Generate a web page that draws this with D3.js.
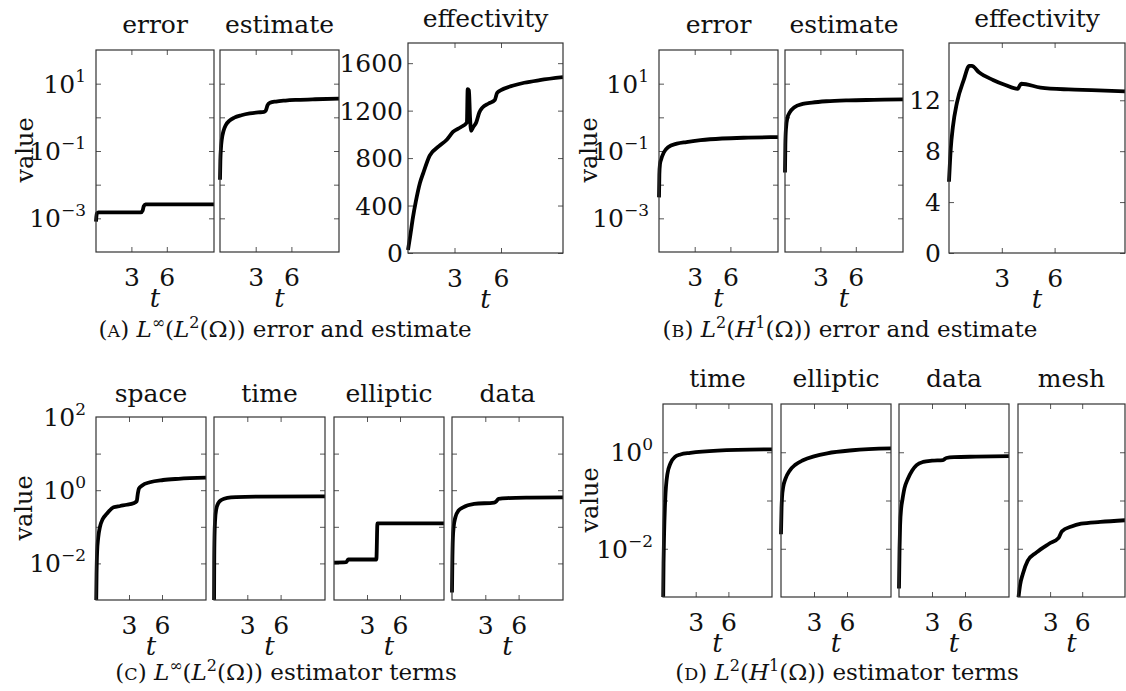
<!DOCTYPE html>
<html>
<head>
<meta charset="utf-8">
<script src="https://cdn.jsdelivr.net/npm/d3@7"></script>
<style>
  body { margin: 0; background: #fff; }
</style>
</head>
<body>
<div id="chart"></div>
<script>
const W = 1126, H = 691;
const FONT = "'DejaVu Serif', serif";

// every panel runs over time t
const tDomain = [0, 10];
const tTicks = [3, 6];

// (A) L-inf(L2): [t, value]
const errA = [[0, 8e-4], [0.03, 1.1e-3], [0.08, 1.4e-3], [0.2, 1.5e-3], [3.8, 1.5e-3], [3.95, 1.7e-3],
  [4.05, 2.3e-3], [4.2, 2.6e-3], [10, 2.6e-3]];
const estA = [[0, 0.014], [0.03, 0.05], [0.08, 0.12], [0.15, 0.22], [0.3, 0.4], [0.5, 0.6], [0.8, 0.8],
  [1.2, 0.98], [1.8, 1.15], [2.5, 1.3], [3.2, 1.4], [3.7, 1.45], [3.85, 1.6], [4.0, 2.3], [4.2, 2.7],
  [4.7, 2.95], [5.5, 3.15], [6.5, 3.3], [8, 3.45], [10, 3.6]];
const effA = [[0, 25], [0.15, 150], [0.32, 300], [0.5, 430], [0.77, 590], [1.0, 680], [1.4, 820],
  [2.0, 900], [2.5, 955], [2.9, 1020], [3.4, 1060], [3.8, 1100], [3.85, 1380], [3.93, 1370],
  [4.0, 1150], [4.07, 1030], [4.2, 1060], [4.4, 1100], [4.6, 1185], [4.8, 1225], [5.2, 1260],
  [5.6, 1290], [5.75, 1350], [6.0, 1372], [6.8, 1412], [7.5, 1435], [8.5, 1457], [10, 1482]];

// (B) L2(H1)
const errB = [[0, 0.0042], [0.03, 0.02], [0.08, 0.04], [0.17, 0.055], [0.4, 0.09], [0.76, 0.13],
  [1.5, 0.165], [2.3, 0.185], [3.5, 0.21], [5.3, 0.235], [7.5, 0.25], [10, 0.26]];
const estB = [[0, 0.023], [0.03, 0.15], [0.08, 0.45], [0.2, 0.95], [0.4, 1.4], [0.8, 2.0], [1.5, 2.5],
  [2.3, 2.75], [3.5, 3.0], [5.4, 3.2], [7.5, 3.3], [10, 3.4]];
const effB = [[0, 5.6], [0.1, 8.2], [0.22, 9.9], [0.45, 11.8], [0.84, 13.6], [1.15, 14.7], [1.3, 14.7],
  [1.7, 14.2], [2.5, 13.6], [3.2, 13.2], [3.9, 12.9], [4.0, 13.1], [4.1, 13.3], [5.2, 13.0],
  [6.8, 12.85], [8.1, 12.8], [10, 12.7]];

// (C) L-inf(L2) estimator terms
const spaceC = [[0, 3e-4], [0.05, 0.005], [0.1, 0.02], [0.2, 0.05], [0.36, 0.1], [0.6, 0.16], [1.0, 0.23],
  [1.6, 0.34], [2.2, 0.37], [2.8, 0.4], [3.4, 0.44], [3.7, 0.5], [3.8, 0.8], [3.9, 1.1], [4.2, 1.35],
  [4.9, 1.65], [6.1, 1.9], [7.5, 2.05], [10, 2.2]];
const timeC = [[0, 3e-4], [0.02, 0.01], [0.05, 0.06], [0.1, 0.15], [0.2, 0.3], [0.4, 0.45], [0.7, 0.55],
  [1.2, 0.62], [2, 0.65], [4, 0.67], [10, 0.68]];
const ellC = [[0, 0.0105], [1.1, 0.0108], [1.3, 0.0128], [3.85, 0.0128], [3.95, 0.124], [10, 0.124]];
const dataC = [[0, 0.0016], [0.03, 0.01], [0.08, 0.05], [0.15, 0.1], [0.3, 0.18], [0.6, 0.28], [1, 0.34],
  [2, 0.42], [3.8, 0.46], [4.0, 0.5], [4.2, 0.58], [5, 0.61], [7, 0.63], [10, 0.64]];

// (D) L2(H1) estimator terms
const timeD = [[0, 4e-4], [0.05, 0.005], [0.1, 0.02], [0.2, 0.1], [0.4, 0.35], [0.7, 0.6], [1.1, 0.8],
  [1.6, 0.9], [2.5, 0.97], [5, 1.08], [10, 1.15]];
const ellD = [[0, 0.02], [0.05, 0.07], [0.1, 0.12], [0.2, 0.19], [0.4, 0.28], [0.8, 0.42], [1.3, 0.55],
  [2, 0.68], [3, 0.82], [4.2, 0.95], [6.5, 1.1], [10, 1.2]];
const dataD = [[0, 0.0015], [0.05, 0.01], [0.1, 0.03], [0.2, 0.07], [0.3, 0.1], [0.5, 0.18], [0.8, 0.28],
  [1.2, 0.42], [1.6, 0.54], [2.2, 0.63], [3, 0.67], [4.0, 0.69], [4.3, 0.76], [5, 0.79], [7, 0.81], [10, 0.83]];
const meshD = [[0, 8e-4], [0.2, 0.0018], [0.45, 0.003], [0.9, 0.0056], [1.7, 0.0083], [2.9, 0.0127],
  [3.8, 0.0168], [4.1, 0.023], [5, 0.029], [5.9, 0.033], [7.7, 0.036], [10, 0.039]];

// y ticks
const ticksAB = [1e-3, 1e-2, 1e-1, 1e0, 1e1];
const labelsAB = [1e-3, 1e-1, 1e1];
const ticksC = [1e-2, 1e-1, 1e0, 1e1];
const labelsC = [1e-2, 1e0, 1e2];
const ticksD = [1e-2, 1e-1, 1e0];
const labelsD = [1e-2, 1e0];
const ticksEffA = [0, 400, 800, 1200, 1600];
const ticksEffB = [0, 4, 8, 12];

const rowA = {y0: 50, y1: 252, titleY: 33};
const rowC = {y0: 417, y1: 600, titleY: 402};
const rowD = {y0: 404, y1: 597, titleY: 387};

const panels = [
  {...rowA, x0: 96, x1: 214, log: true, dom: [1e-4, 1e2], ticks: ticksAB, labels: labelsAB, data: errA, title: "error"},
  {...rowA, x0: 220, x1: 339, log: true, dom: [1e-4, 1e2], ticks: ticksAB, labels: [], data: estA, title: "estimate"},
  {x0: 408, x1: 563, y0: 43, y1: 253, titleY: 27, log: false, dom: [0, 1770], ticks: ticksEffA, labels: ticksEffA, pad: 5, data: effA, title: "effectivity"},
  {...rowA, x0: 659, x1: 778, log: true, dom: [1e-4, 1e2], ticks: ticksAB, labels: labelsAB, data: errB, title: "error"},
  {...rowA, x0: 785, x1: 903, log: true, dom: [1e-4, 1e2], ticks: ticksAB, labels: [], data: estB, title: "estimate"},
  {x0: 949, x1: 1125, y0: 43, y1: 253, titleY: 27, log: false, dom: [0, 16.5], ticks: ticksEffB, labels: ticksEffB, pad: 8, data: effB, title: "effectivity"},
  {...rowC, x0: 96, x1: 206, log: true, dom: [1e-3, 1e2], ticks: ticksC, labels: labelsC, data: spaceC, title: "space"},
  {...rowC, x0: 214, x1: 325, log: true, dom: [1e-3, 1e2], ticks: ticksC, labels: [], data: timeC, title: "time"},
  {...rowC, x0: 334, x1: 444, log: true, dom: [1e-3, 1e2], ticks: ticksC, labels: [], data: ellC, title: "elliptic"},
  {...rowC, x0: 452, x1: 563, log: true, dom: [1e-3, 1e2], ticks: ticksC, labels: [], data: dataC, title: "data"},
  {...rowD, x0: 663, x1: 772, log: true, dom: [1e-3, 1e1], ticks: ticksD, labels: labelsD, data: timeD, title: "time"},
  {...rowD, x0: 781, x1: 891, log: true, dom: [1e-3, 1e1], ticks: ticksD, labels: [], data: ellD, title: "elliptic"},
  {...rowD, x0: 899, x1: 1009, log: true, dom: [1e-3, 1e1], ticks: ticksD, labels: [], data: dataD, title: "data"},
  {...rowD, x0: 1018, x1: 1125, log: true, dom: [1e-3, 1e1], ticks: ticksD, labels: [], data: meshD, title: "mesh"}
];

const valueLabels = [[33, 150], [597, 150], [32, 508], [598, 500]];

const captions = [
  {x: 285, y: 337, parts: [["("], ["A", "sc"], [") "], ["L", "it"], ["∞", "sup"], ["("], ["L", "it"], ["2", "sup"], ["(Ω)) error and estimate"]]},
  {x: 850, y: 337, parts: [["("], ["B", "sc"], [") "], ["L", "it"], ["2", "sup"], ["("], ["H", "it"], ["1", "sup"], ["(Ω)) error and estimate"]]},
  {x: 286, y: 680, parts: [["("], ["C", "sc"], [") "], ["L", "it"], ["∞", "sup"], ["("], ["L", "it"], ["2", "sup"], ["(Ω)) estimator terms"]]},
  {x: 847, y: 680, parts: [["("], ["D", "sc"], [") "], ["L", "it"], ["2", "sup"], ["("], ["H", "it"], ["1", "sup"], ["(Ω)) estimator terms"]]}
];

const svg = d3.select("#chart").append("svg")
  .attr("width", W)
  .attr("height", H)
  .style("font-family", FONT)
  .style("fill", "#111");

function noDomain(g) {
  g.select(".domain").remove();
  g.selectAll(".tick line").attr("stroke", "#555");
}

panels.forEach(function(p, i) {
  let x = d3.scaleLinear().domain(tDomain).range([p.x0, p.x1]);
  let y = (p.log ? d3.scaleLog() : d3.scaleLinear()).domain(p.dom).range([p.y1, p.y0]);
  let g = svg.append("g");

  g.append("clipPath").attr("id", "clip" + i)
    .append("rect")
    .attr("x", p.x0 - 3).attr("y", p.y0)
    .attr("width", p.x1 - p.x0 + 3).attr("height", p.y1 - p.y0);

  // inward ticks on all four sides
  g.append("g")
    .attr("transform", `translate(0, ${p.y1})`)
    .call(d3.axisBottom(x).tickValues(tTicks).tickSize(-5).tickPadding(16))
    .call(noDomain)
    .call(a => a.selectAll("text").attr("font-size", 25).attr("font-family", FONT).attr("fill", "#111"));
  g.append("g")
    .attr("transform", `translate(0, ${p.y0})`)
    .call(d3.axisTop(x).tickValues(tTicks).tickSize(-5).tickFormat(""))
    .call(noDomain);
  g.append("g")
    .attr("transform", `translate(${p.x0}, 0)`)
    .call(d3.axisLeft(y).tickValues(p.ticks).tickSize(-5).tickFormat(""))
    .call(noDomain);
  g.append("g")
    .attr("transform", `translate(${p.x1}, 0)`)
    .call(d3.axisRight(y).tickValues(p.ticks).tickSize(-5).tickFormat(""))
    .call(noDomain);

  if (p.log) {
    g.selectAll(".ylab").data(p.labels).join("text")
      .attr("x", p.x0 - 10)
      .attr("y", d => y(d) + 9)
      .attr("text-anchor", "end")
      .attr("font-size", 25)
      .each(function(d) {
        let e = Math.round(Math.log10(d));
        let t = d3.select(this);
        t.append("tspan").text("10");
        t.append("tspan").attr("dy", -11).attr("font-size", 17).text(e < 0 ? "\u2212" + (-e) : e);
      });
  } else {
    g.selectAll(".ylab").data(p.labels).join("text")
      .attr("x", p.x0 - p.pad)
      .attr("y", d => y(d) + 9)
      .attr("text-anchor", "end")
      .attr("font-size", 25)
      .text(d => d);
  }

  g.append("path")
    .datum(p.data)
    .attr("clip-path", `url(#clip${i})`)
    .attr("fill", "none")
    .attr("stroke", "#000")
    .attr("stroke-width", 3.8)
    .attr("stroke-linejoin", "round")
    .attr("d", d3.line()
      .x(d => x(d[0]))
      .y(d => y(d[1]))
      .curve(d3.curveMonotoneX));

  g.append("rect")
    .attr("x", p.x0).attr("y", p.y0)
    .attr("width", p.x1 - p.x0).attr("height", p.y1 - p.y0)
    .attr("fill", "none")
    .attr("stroke", "#333")
    .attr("stroke-width", 1.2);

  g.append("text")
    .attr("x", (p.x0 + p.x1) / 2)
    .attr("y", p.titleY)
    .attr("text-anchor", "middle")
    .attr("font-size", 25)
    .text(p.title);

  g.append("text")
    .attr("x", (p.x0 + p.x1) / 2)
    .attr("y", p.y1 + 55)
    .attr("text-anchor", "middle")
    .attr("font-size", 26)
    .attr("font-style", "italic")
    .text("t");
});

valueLabels.forEach(function(v) {
  svg.append("text")
    .attr("transform", `translate(${v[0]}, ${v[1]}) rotate(-90)`)
    .attr("text-anchor", "middle")
    .attr("font-size", 24)
    .text("value");
});

captions.forEach(function(c) {
  let t = svg.append("text")
    .attr("x", c.x)
    .attr("y", c.y)
    .attr("text-anchor", "middle")
    .attr("font-size", 23);
  let up = false;
  c.parts.forEach(function(part) {
    let s = t.append("tspan").text(part[0]);
    if (part[1] == "sup") {
      s.attr("dy", -9).attr("font-size", 16);
      up = true;
    } else {
      if (up) { s.attr("dy", 9); up = false; }
      if (part[1] == "it") s.attr("font-style", "italic");
      if (part[1] == "sc") s.attr("font-size", 17.5);
    }
  });
});
</script>
</body>
</html>
